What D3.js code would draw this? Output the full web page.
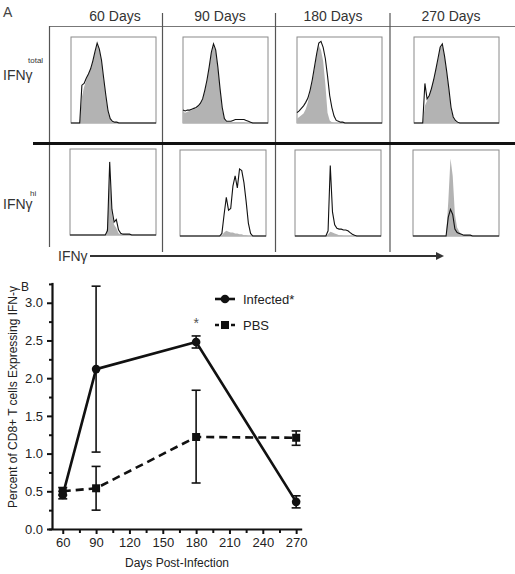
<!DOCTYPE html>
<html>
<head>
<meta charset="utf-8">
<script src="https://cdn.jsdelivr.net/npm/d3@7"></script>
<style>
  html, body { margin: 0; padding: 0; background: #fff; }
  svg { display: block; }
  text { font-family: "Liberation Sans", Arial, sans-serif; }
</style>
</head>
<body>
<svg id="chart" width="515" height="574"></svg>
<script>
// ---------------- DATA ----------------
// Panel A: column labels and histogram bins (40 bins, % of max height)
const columnLabels = ["60 Days", "90 Days", "180 Days", "270 Days"];
const rowLabels = [{main: "IFNγ", sup: "total"}, {main: "IFNγ", sup: "hi"}];
const axisLabelA = "IFNγ";

// Row 1 (IFNγ total): black outline (infected) and grey fill (control)
const totalLine60  = [0,0,0,0,0,44,46,52,57,63,72,83,93,86,73,52,32,14,5,2,1,1,0,0,0,0,0,0,0,0,0,0,0,0,0,0,0,0,0,0];
const totalFill60  = [0,0,0,0,0,30,42,50,56,62,71,82,91,85,72,50,30,12,4,1,0,0,0,0,0,0,0,0,0,0,0,0,0,0,0,0,0,0,0,0];
const totalLine90  = [15,14,15,15,16,17,18,20,23,28,38,50,65,82,92,85,65,40,18,5,2,2,2,3,4,4,4,4,4,3,2,1,0,0,0,0,0,0,0,0];
const totalFill90  = [13,12,13,14,15,16,17,19,22,27,37,49,64,80,90,84,63,38,16,4,1,1,1,1,1,1,1,1,1,0,0,0,0,0,0,0,0,0,0,0];
const totalLine180 = [12,14,17,20,24,29,38,50,65,80,93,95,88,75,55,32,18,8,3,2,1,1,0,0,0,0,0,0,0,0,0,0,0,0,0,0,0,0,0,0];
const totalFill180 = [5,7,9,11,16,24,36,48,62,78,90,85,72,45,12,3,1,0,0,0,0,0,0,0,0,0,0,0,0,0,0,0,0,0,0,0,0,0,0,0];
const totalLine270 = [0,0,0,0,0,46,28,32,40,50,62,75,88,92,78,60,40,18,7,3,1,0,0,0,0,0,0,0,0,0,0,0,0,0,0,0,0,0,0,0];
const totalFill270 = [0,0,0,0,0,20,26,32,40,50,62,74,87,90,77,58,38,16,6,2,1,0,0,0,0,0,0,0,0,0,0,0,0,0,0,0,0,0,0,0];

// Row 2 (IFNγ hi)
const hiLine60  = [0,0,0,0,0,0,0,0,0,0,0,0,0,0,0,0,0,5,85,30,15,18,6,2,1,1,1,1,0,0,0,0,0,0,0,0,0,0,0,0];
const hiFill60  = [0,0,0,0,0,0,0,0,0,0,0,0,0,0,0,0,0,10,72,25,12,8,2,1,0,0,0,0,0,0,0,0,0,0,0,0,0,0,0,0];
const hiLine90  = [0,0,0,0,0,0,0,0,0,0,0,0,0,0,0,0,0,0,0,3,25,45,30,32,58,70,56,78,76,62,40,15,3,0,0,0,0,0,0,0];
const hiFill90  = [0,0,0,0,0,0,0,0,0,0,0,0,0,0,0,0,0,0,0,1,4,6,5,4,4,3,3,2,2,1,1,0,0,0,0,0,0,0,0,0];
const hiLine180 = [0,0,0,0,0,0,0,0,0,0,0,0,0,0,0,6,82,28,13,9,8,8,7,7,6,4,2,1,0,0,0,0,0,0,0,0,0,0,0,0];
const hiFill180 = [0,0,0,0,0,0,0,0,0,0,0,0,0,0,0,2,5,4,3,2,1,1,0,0,0,0,0,0,0,0,0,0,0,0,0,0,0,0,0,0];
const hiLine270 = [0,0,0,0,0,0,0,0,0,0,0,0,0,0,0,0,22,31,25,8,4,3,2,1,1,1,1,0,0,0,0,0,0,0,0,0,0,0,0,0];
const hiFill270 = [0,0,0,0,0,0,0,0,0,0,0,0,0,0,0,0,40,90,70,25,10,5,2,1,1,0,0,0,0,0,0,0,0,0,0,0,0,0,0,0];

// Panel B: line chart
const days = [60, 90, 180, 270];
const infectedMean = [0.45, 2.12, 2.48, 0.36];
const infectedLow  = [0.40, 1.02, 2.40, 0.28];
const infectedHigh = [0.50, 3.22, 2.56, 0.44];
const pbsMean = [0.50, 0.54, 1.22, 1.21];
const pbsLow  = [0.45, 0.25, 0.61, 1.11];
const pbsHigh = [0.55, 0.83, 1.84, 1.30];
const xMajorTicks = [60, 90, 120, 150, 180, 210, 240, 270];
const xMinorTicks = [75, 105, 135, 165, 195, 225, 255];
const yMajorTicks = [0, 0.5, 1.0, 1.5, 2.0, 2.5, 3.0];
const yMinorTicks = [0.25, 0.75, 1.25, 1.75, 2.25, 2.75, 3.25];
const seriesNames = ["Infected*", "PBS"];
const xTitle = "Days Post-Infection";
const yTitle = "Percent of CD8+ T cells Expressing IFN-γ";

// ---------------- DRAW ----------------
const svg = d3.select("#chart");

// ---- Panel A ----
const gA = svg.append("g");
gA.append("text").attr("x", 3).attr("y", 17).attr("font-size", 14).attr("fill", "#444").text("A");

const headerX = [115, 220, 333, 451];
columnLabels.forEach((t, i) => {
  gA.append("text").attr("x", headerX[i]).attr("y", 21).attr("text-anchor", "middle")
    .attr("font-size", 14).attr("fill", "#333").text(t);
});

// frame lines
gA.append("line").attr("x1", 49).attr("x2", 515).attr("y1", 26.5).attr("y2", 26.5)
  .attr("stroke", "#777").attr("stroke-width", 1.2);
gA.append("line").attr("x1", 49.5).attr("x2", 49.5).attr("y1", 26).attr("y2", 247)
  .attr("stroke", "#555").attr("stroke-width", 1.2);
[162.5, 275.5, 390].forEach(x => {
  gA.append("line").attr("x1", x).attr("x2", x).attr("y1", 13).attr("y2", 252)
    .attr("stroke", "#555").attr("stroke-width", 1.2);
});
gA.append("line").attr("x1", 33).attr("x2", 515).attr("y1", 143.5).attr("y2", 143.5)
  .attr("stroke", "#111").attr("stroke-width", 3);

// row labels
[[80, 63], [209, 196]].forEach((pos, r) => {
  gA.append("text").attr("x", 3).attr("y", pos[0]).attr("font-size", 14).attr("fill", "#333")
    .text(rowLabels[r].main);
  gA.append("text").attr("x", r === 0 ? 28 : 30).attr("y", pos[1]).attr("font-size", 8)
    .attr("fill", "#333").text(rowLabels[r].sup);
});

// arrow
gA.append("text").attr("x", 58).attr("y", 261).attr("font-size", 14).attr("fill", "#333").text(axisLabelA);
gA.append("line").attr("x1", 90).attr("x2", 438).attr("y1", 256).attr("y2", 256)
  .attr("stroke", "#333").attr("stroke-width", 2);
gA.append("path").attr("d", "M436,252 L444,256 L436,260 Z").attr("fill", "#333");

// histograms
const hists = [
  {x: 71, y: 37, w: 85, h: 86, line: totalLine60, fill: totalFill60},
  {x: 183, y: 37, w: 85, h: 86, line: totalLine90, fill: totalFill90},
  {x: 297, y: 37, w: 85, h: 86, line: totalLine180, fill: totalFill180},
  {x: 414, y: 37, w: 85, h: 86, line: totalLine270, fill: totalFill270},
  {x: 70, y: 149, w: 86, h: 86, line: hiLine60, fill: hiFill60},
  {x: 180, y: 150, w: 86, h: 86, line: hiLine90, fill: hiFill90},
  {x: 295, y: 150, w: 86, h: 86, line: hiLine180, fill: hiFill180},
  {x: 413, y: 150, w: 86, h: 86, line: hiLine270, fill: hiFill270}
];
hists.forEach(hd => {
  const g = gA.append("g");
  const xs = d3.scaleLinear().domain([0, hd.line.length - 1]).range([hd.x, hd.x + hd.w]);
  const ys = d3.scaleLinear().domain([0, 100]).range([hd.y + hd.h, hd.y]);
  g.append("rect").attr("x", hd.x).attr("y", hd.y).attr("width", hd.w).attr("height", hd.h)
    .attr("fill", "#fff").attr("stroke", "#8a8a8a").attr("stroke-width", 1);
  const area = d3.area().x((d, i) => xs(i)).y0(ys(0)).y1(d => ys(d));
  g.append("path").datum(hd.fill).attr("d", area).attr("fill", "#b3b3b3");
  const line = d3.line().x((d, i) => xs(i)).y(d => ys(d));
  g.append("path").datum(hd.line).attr("d", line).attr("fill", "none")
    .attr("stroke", "#111").attr("stroke-width", 1.1);
});

// ---- Panel B ----
const x = d3.scaleLinear().domain([47, 275]).range([48.3, 301.7]);
const y = d3.scaleLinear().domain([0, 3.27]).range([529, 282.4]);
const gB = svg.append("g");

// x axis
gB.append("g").attr("transform", "translate(0,529)")
  .call(d3.axisBottom(x).tickValues(xMajorTicks).tickSize(5).tickPadding(4).tickSizeOuter(0).tickFormat(d3.format("d")));
gB.append("g").attr("transform", "translate(0,529)")
  .call(d3.axisBottom(x).tickValues(xMinorTicks).tickSize(4).tickSizeOuter(0).tickFormat(""))
  .select(".domain").remove();
// y axis
gB.append("g").attr("transform", "translate(52,0)")
  .call(d3.axisLeft(y).tickValues(yMajorTicks).tickSize(5).tickPadding(4).tickSizeOuter(0).tickFormat(d3.format(".1f")));
gB.append("g").attr("transform", "translate(52,0)")
  .call(d3.axisLeft(y).tickValues(yMinorTicks).tickSize(3).tickSizeOuter(0).tickFormat(""))
  .select(".domain").remove();
gB.selectAll(".domain").attr("stroke", "#111").attr("stroke-width", 2.2);
gB.selectAll(".tick line").attr("stroke", "#111").attr("stroke-width", 2);
gB.selectAll(".tick text").attr("font-size", 13).attr("fill", "#222")
  .attr("font-family", "'Liberation Sans', Arial, sans-serif");

// titles
gB.append("text").attr("x", 177).attr("y", 567).attr("text-anchor", "middle")
  .attr("font-size", 12).attr("fill", "#222").text(xTitle);
gB.append("text").attr("transform", "translate(17,397) rotate(-90)").attr("text-anchor", "middle")
  .attr("font-size", 12).attr("fill", "#222").text(yTitle);
gB.append("text").attr("x", 21).attr("y", 291).attr("font-size", 12)
  .attr("font-family", "'Liberation Serif', 'Times New Roman', serif").attr("fill", "#222").text("B");

// series
const infected = days.map((d, i) => ({d, m: infectedMean[i], lo: infectedLow[i], hi: infectedHigh[i]}));
const pbs = days.map((d, i) => ({d, m: pbsMean[i], lo: pbsLow[i], hi: pbsHigh[i]}));
const lineGen = d3.line().x(p => x(p.d)).y(p => y(p.m));

function errorBars(data) {
  const g = gB.append("g").attr("stroke", "#111").attr("stroke-width", 1.6);
  data.forEach(p => {
    g.append("line").attr("x1", x(p.d)).attr("x2", x(p.d)).attr("y1", y(p.lo)).attr("y2", y(p.hi));
    [p.lo, p.hi].forEach(v => {
      g.append("line").attr("x1", x(p.d) - 4.5).attr("x2", x(p.d) + 4.5).attr("y1", y(v)).attr("y2", y(v));
    });
  });
}
errorBars(pbs);
errorBars(infected);

gB.append("path").datum(pbs).attr("d", lineGen).attr("fill", "none").attr("stroke", "#111")
  .attr("stroke-width", 2.6).attr("stroke-dasharray", "8,5");
gB.append("path").datum(infected).attr("d", lineGen).attr("fill", "none").attr("stroke", "#111")
  .attr("stroke-width", 2.6);

gB.selectAll(".sq").data(pbs).enter().append("rect")
  .attr("x", p => x(p.d) - 4).attr("y", p => y(p.m) - 4).attr("width", 8).attr("height", 8).attr("fill", "#111");
gB.selectAll(".ci").data(infected).enter().append("circle")
  .attr("cx", p => x(p.d)).attr("cy", p => y(p.m)).attr("r", 4.3).attr("fill", "#111");

// significance asterisk
gB.append("text").attr("x", x(180)).attr("y", 328).attr("text-anchor", "middle")
  .attr("font-size", 14).attr("fill", "#555").text("*");

// legend
const lg = gB.append("g");
lg.append("line").attr("x1", 215).attr("x2", 235).attr("y1", 299).attr("y2", 299)
  .attr("stroke", "#111").attr("stroke-width", 2.6);
lg.append("circle").attr("cx", 225).attr("cy", 299).attr("r", 4.3).attr("fill", "#111");
lg.append("line").attr("x1", 215).attr("x2", 235).attr("y1", 325).attr("y2", 325)
  .attr("stroke", "#111").attr("stroke-width", 2.6).attr("stroke-dasharray", "4,12");
lg.append("rect").attr("x", 221).attr("y", 321).attr("width", 8).attr("height", 8).attr("fill", "#111");
lg.append("text").attr("x", 243).attr("y", 303.5).attr("font-size", 13).attr("fill", "#222").text(seriesNames[0]);
lg.append("text").attr("x", 243).attr("y", 329.5).attr("font-size", 13).attr("fill", "#222").text(seriesNames[1]);
</script>
</body>
</html>
